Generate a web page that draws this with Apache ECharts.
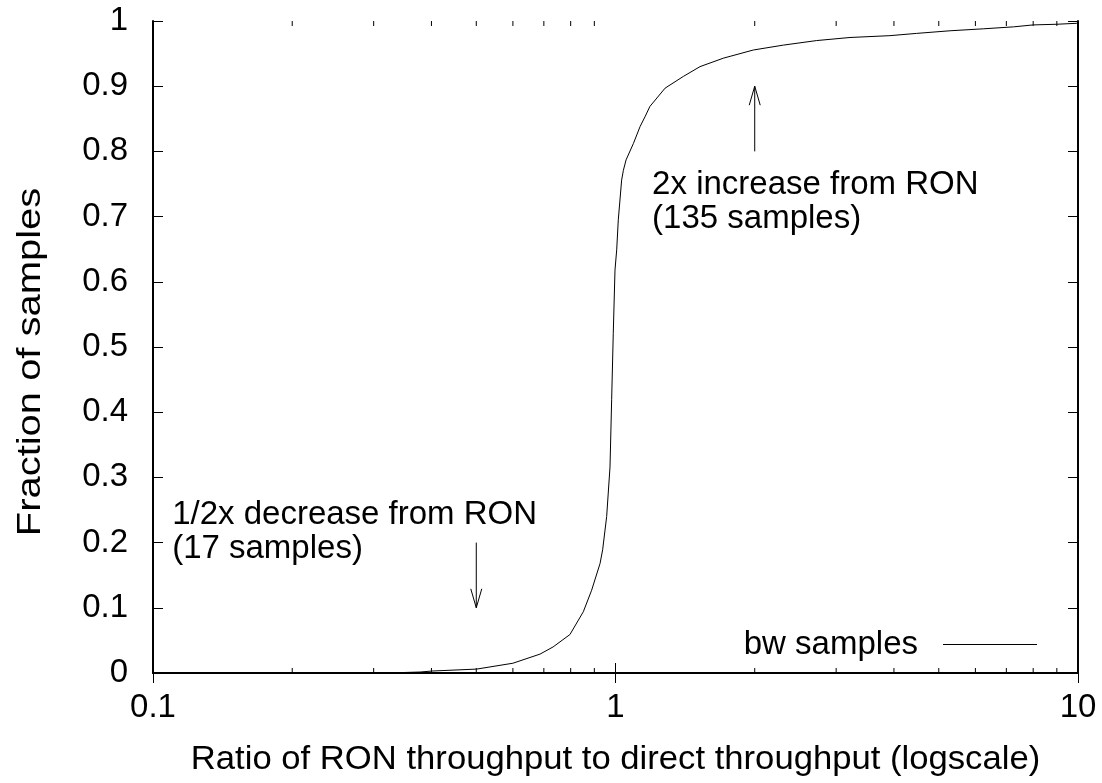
<!DOCTYPE html>
<html><head><meta charset="utf-8">
<script src="https://cdn.jsdelivr.net/npm/echarts@6/dist/echarts.min.js"></script>
<style>html,body{margin:0;padding:0;background:#fff}#c{width:1102px;height:783px}</style>
</head><body><div id="c"></div>
<script>
// CDF of ratio (RON throughput / direct throughput)
const ratio = [0.32, 0.378, 0.401, 0.501, 0.600, 0.687, 0.733, 0.797, 0.852, 0.888, 0.926, 0.938, 0.957, 0.973, 0.981, 0.989, 0.9975, 1.006, 1.014, 1.031, 1.040, 1.054, 1.093, 1.130, 1.158, 1.187, 1.280, 1.402, 1.523, 1.711, 1.986, 2.306, 2.723, 3.214, 3.92, 4.48, 5.29, 6.24, 7.25, 8.0, 9.0, 9.94, 10.0];
const fraction = [0.0, 0.0015, 0.003, 0.006, 0.015, 0.029, 0.040, 0.059, 0.094, 0.127, 0.168, 0.189, 0.240, 0.316, 0.419, 0.521, 0.618, 0.649, 0.695, 0.756, 0.771, 0.787, 0.812, 0.838, 0.853, 0.869, 0.897, 0.915, 0.930, 0.943, 0.9555, 0.963, 0.970, 0.9747, 0.9775, 0.981, 0.985, 0.988, 0.991, 0.994, 0.995, 0.9965, 0.9967];
const seriesName = 'bw samples';
const xTickLabels = {0.1: '0.1', 1: '1', 10: '10'};
const yTickLabels = ['0', '0.1', '0.2', '0.3', '0.4', '0.5', '0.6', '0.7', '0.8', '0.9', '1'];
const minorTicks = [0.2, 0.3, 0.4, 0.5, 0.6, 0.7, 0.8, 0.9, 2, 3, 4, 5, 6, 7, 8, 9];
const arrowX = [0.5, 2];
const arrowFrom = [0.2, 0.8];
const arrowTo = [0.1, 0.9];
const noteX = [0.11, 1.2];
const noteY = [0.242, 0.748];
const noteLines = [['1/2x decrease from RON', '(17 samples)'], ['2x increase from RON', '(135 samples)']];
const xTitle = 'Ratio of RON throughput to direct throughput (logscale)';
const yTitle = 'Fraction of samples';

const FONT = '"Liberation Sans", Arial, Helvetica, sans-serif';
const FS = 33;
const chart = echarts.init(document.getElementById('c'), null, {renderer: 'canvas'});

const baseX = {
  type: 'log', logBase: 10, min: 0.1, max: 10,
  axisLine: {show: true, lineStyle: {color: '#000', width: 2}},
  axisTick: {show: true, inside: true, length: 10, lineStyle: {color: '#000', width: 1}},
  splitLine: {show: false}, minorTick: {show: false}
};
const baseY = {
  type: 'value', min: 0, max: 1, interval: 0.1,
  axisLine: {show: true, lineStyle: {color: '#000', width: 2}},
  axisTick: {show: true, inside: true, length: 10, lineStyle: {color: '#000', width: 1}},
  splitLine: {show: false}
};

chart.setOption({
  animation: false,
  backgroundColor: '#fff',
  grid: {left: 153, right: 24, top: 21, bottom: 110, containLabel: false},
  textStyle: {fontFamily: FONT},
  legend: {
    show: true, right: 65, top: 628, padding: 0, align: 'right',
    itemWidth: 94, itemHeight: 1,
    textStyle: {fontFamily: FONT, fontSize: FS, color: '#000', padding: [0, 20, 0, 0]},
    data: [{name: seriesName, icon: 'rect', itemStyle: {color: '#000'}}]
  },
  graphic: [
    {type: 'text', x: 615.5, y: 760, scaleX: 1.05, z: 10,
      style: {text: xTitle, fill: '#000', font: FS + 'px ' + FONT, align: 'center', verticalAlign: 'middle'}},
    {type: 'text', x: 31, y: 362, rotation: Math.PI / 2, scaleX: 1.21, z: 10,
      style: {text: yTitle, fill: '#000', font: FS + 'px ' + FONT, align: 'center', verticalAlign: 'middle'}}
  ],
  xAxis: [
    Object.assign({}, baseX, {
      position: 'bottom',
      axisLabel: {show: true, margin: 18, fontFamily: FONT, fontSize: FS, color: '#000',
        formatter: v => xTickLabels[+v.toPrecision(3)] || ''}
    }),
    Object.assign({}, baseX, {position: 'top', axisLabel: {show: false}})
  ],
  yAxis: [
    Object.assign({}, baseY, {
      position: 'left',
      axisLabel: {show: true, margin: 25, fontFamily: FONT, fontSize: FS, color: '#000',
        formatter: v => yTickLabels[Math.round(v * 10)]}
    }),
    Object.assign({}, baseY, {position: 'right', axisLabel: {show: false}})
  ],
  series: [
    {
      name: seriesName, type: 'line', xAxisIndex: 0, yAxisIndex: 0,
      data: ratio.map((r, i) => [r, fraction[i]]),
      symbol: 'none', showSymbol: false, smooth: false,
      lineStyle: {color: '#000', width: 1}, itemStyle: {color: '#000'},
      z: 5
    },
    {
      type: 'custom', name: 'minorTicks', xAxisIndex: 0, yAxisIndex: 0,
      data: minorTicks.map(v => [v, 0]),
      silent: true, z: 6,
      renderItem: (params, api) => {
        const v = api.value(0);
        const b = api.coord([v, 0]);
        const t = api.coord([v, 1]);
        const st = {stroke: '#000', lineWidth: 1};
        return {type: 'group', children: [
          {type: 'line', shape: {x1: b[0], y1: b[1], x2: b[0], y2: b[1] - 5}, style: st},
          {type: 'line', shape: {x1: t[0], y1: t[1], x2: t[0], y2: t[1] + 5}, style: st}
        ]};
      }
    },
    {
      type: 'custom', name: 'arrows', xAxisIndex: 0, yAxisIndex: 0,
      data: arrowX.map((x, i) => [x, arrowFrom[i], arrowTo[i]]),
      silent: true, z: 6,
      renderItem: (params, api) => {
        const x = api.value(0);
        const p1 = api.coord([x, api.value(1)]);
        const p2 = api.coord([x, api.value(2)]);
        const d = p2[1] > p1[1] ? 1 : -1;
        const st = {stroke: '#000', lineWidth: 1, fill: null};
        return {type: 'group', children: [
          {type: 'line', shape: {x1: p1[0], y1: p1[1], x2: p2[0], y2: p2[1]}, style: st},
          {type: 'polyline', shape: {points: [[p2[0] - 5.5, p2[1] - d * 19], [p2[0], p2[1]], [p2[0] + 5.5, p2[1] - d * 19]]}, style: st}
        ]};
      }
    },
    {
      type: 'custom', name: 'notes', xAxisIndex: 0, yAxisIndex: 0,
      data: noteX.map((x, i) => [x, noteY[i], i]),
      silent: true, z: 6,
      renderItem: (params, api) => {
        const p = api.coord([api.value(0), api.value(1)]);
        const lines = noteLines[api.value(2)];
        return {type: 'group', children: lines.map((t, j) => ({
          type: 'text', x: p[0], y: p[1] + j * 33.5,
          style: {text: t, fill: '#000', font: FS + 'px ' + FONT, align: 'left', verticalAlign: 'middle'}
        }))};
      }
    }
  ]
});
</script>
</body></html>
